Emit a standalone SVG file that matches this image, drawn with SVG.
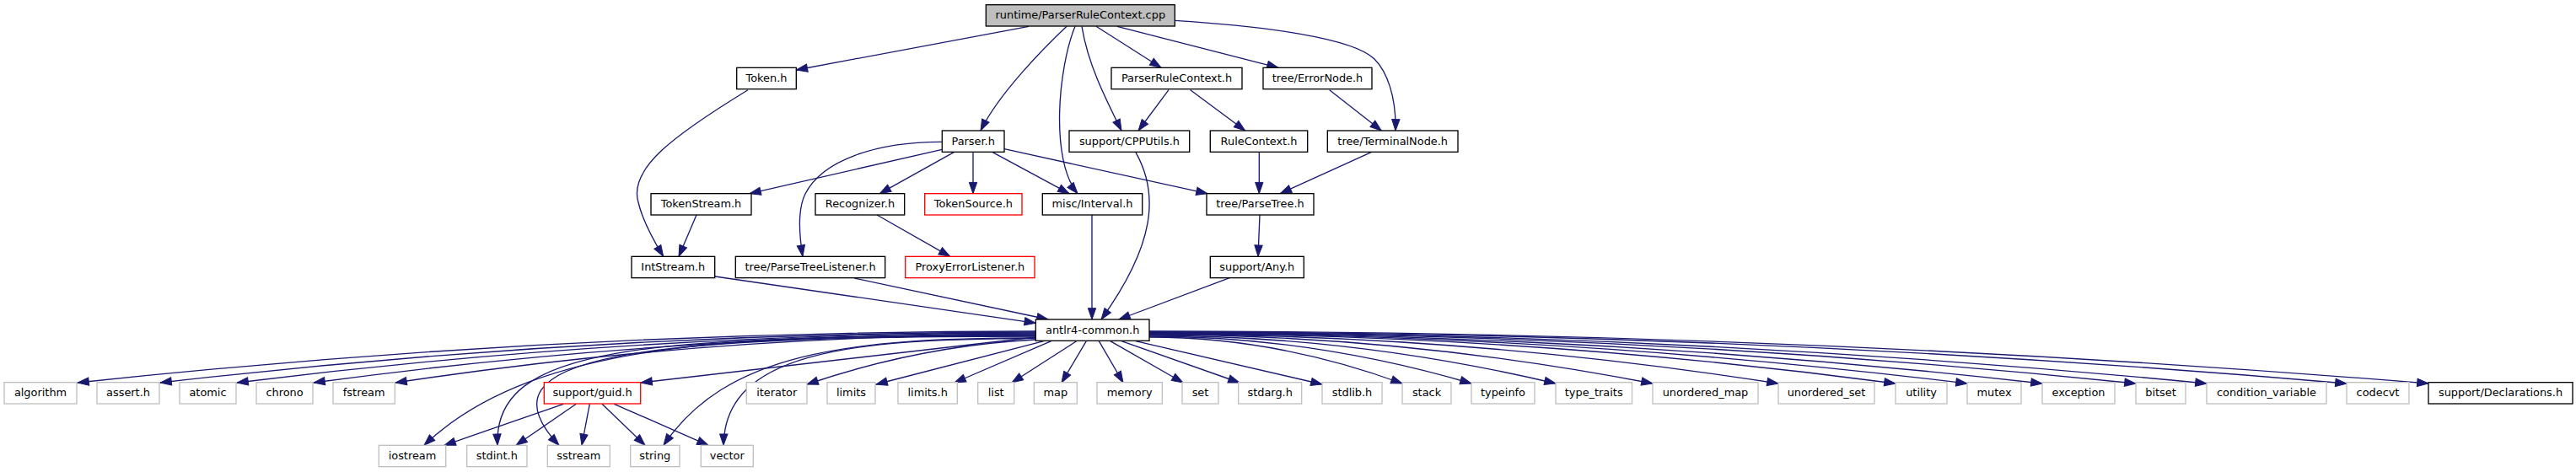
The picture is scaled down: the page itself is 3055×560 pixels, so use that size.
<svg xmlns="http://www.w3.org/2000/svg" width="3055" height="560" viewBox="0 0 3055 560">
<style>
.node rect{stroke-width:1.33}
.doc{fill:#fff;stroke:#000}
.ext{fill:#fff;stroke:#bfbfbf}
.red{fill:#fff;stroke:#ff0000}
.root{fill:#bfbfbf;stroke:#000}
.node text{font-family:"DejaVu Sans","Liberation Sans",sans-serif;font-size:12.9px;text-anchor:middle;fill:#000}
#edges path{fill:none;stroke:#191970;stroke-width:1.33;marker-end:url(#arr)}
</style>
<defs>
<marker id="arr" markerUnits="userSpaceOnUse" markerWidth="16" markerHeight="12" refX="13.3" refY="4.67" orient="auto" overflow="visible">
<path d="M0,0 L13.3,4.67 L0,9.33 Z" fill="#191970" stroke="#191970" stroke-width="1"/>
</marker>
</defs>
<rect x="0" y="0" width="3055" height="560" fill="#fff"/>
<g id="edges">
<path d="M1220,31.3 L944.3,83"/>
<path d="M1265,31.3 C1240,55 1185,110 1163,155"/>
<path d="M1275,31.3 C1255,80 1245,190 1278,229.7"/>
<path d="M1283,31.3 C1290,75 1310,115 1330,155"/>
<path d="M1300,31.3 L1377,80.3"/>
<path d="M1325,31.3 L1516,80.3"/>
<path d="M1393.3,24.3 C1500,31 1605,45 1630,70 C1645,85 1656,115 1655,155"/>
<path d="M887,106.7 C800,160 745,200 757,240 C762,262 775,285 786.7,304.3"/>
<path d="M1386,106.7 L1350,155"/>
<path d="M1411.7,106.7 L1476.7,155"/>
<path d="M1576.7,106.7 L1638.3,155"/>
<path d="M1346.7,180.3 C1375,230 1370,290 1306,379"/>
<path d="M1493.3,180.3 L1493.3,229.7"/>
<path d="M1626.7,180.3 L1518.3,229.7"/>
<path d="M1494,255 L1492,304.3"/>
<path d="M1458.3,329.7 L1327,379"/>
<path d="M1295,255 L1295,379"/>
<path d="M1117.3,177.3 L889,229.7"/>
<path d="M1131.7,180.3 L1043.3,229.7"/>
<path d="M1154,180.3 L1154,229.7"/>
<path d="M1176.7,180.3 L1268,229.7"/>
<path d="M1191,176.7 L1432,229.7"/>
<path d="M1117.3,168.3 C1040,168 975,190 955,230 C945,250 948,280 952,304.3"/>
<path d="M1040,255 L1126.7,304.3"/>
<path d="M826,255 L805,304.3"/>
<path d="M848,328 L1228.3,383.3"/>
<path d="M1013.3,330 L1243,379"/>
<path d="M1228.3,393 Q660,393 92,454"/>
<path d="M1228.3,394 Q709,394 190,454"/>
<path d="M1228.3,395 Q754,395 281,454"/>
<path d="M1228.3,396 Q800,396 372,454"/>
<path d="M1228.3,397 Q848,397 469,454"/>
<path d="M1228.3,398 C900,398 640,398 503,528.3"/>
<path d="M1228.3,398.5 C760,398.5 585,410 590,528.3"/>
<path d="M1228.3,399 C760,399 560,420 663,528.3"/>
<path d="M1228.3,400 L760,454"/>
<path d="M1228.3,401 C1000,401 860,420 787,528.3"/>
<path d="M1228.3,401.5 C1000,401.5 860,420 858,528.3"/>
<path d="M1228.3,403 Q1092,410 957,456"/>
<path d="M1238,404.7 L1039,456"/>
<path d="M1246.7,404.7 L1132,454"/>
<path d="M1276.7,404.7 L1200,454"/>
<path d="M1288.3,404.7 L1259,454"/>
<path d="M1303.3,404.7 L1332,454"/>
<path d="M1316.7,404.7 L1403,454"/>
<path d="M1330,404.7 L1470,454"/>
<path d="M1346.7,404.7 L1568,456"/>
<path d="M1363,400 Q1513,400 1663,455"/>
<path d="M1363,399 Q1554,399 1745,455"/>
<path d="M1363,398 Q1604,398 1845,455"/>
<path d="M1363,397 Q1661,397 1960,455"/>
<path d="M1363,396.5 Q1736,396.5 2109,455"/>
<path d="M1363,396 Q1805,396 2248,455"/>
<path d="M1363,395.5 Q1848,395.5 2333,455"/>
<path d="M1363,395 Q1892,395 2422,455"/>
<path d="M1363,394.5 Q1948,394.5 2533,455"/>
<path d="M1363,394 Q1990,394 2617,455"/>
<path d="M1363,393.5 Q2073,393.5 2783,455"/>
<path d="M1363,393 Q2121,393 2880,455"/>
<path d="M668.3,479.3 L527,528.3"/>
<path d="M683.3,479.3 L612,528.3"/>
<path d="M699.3,479.3 L690,528.3"/>
<path d="M714,479.3 L765,528.3"/>
<path d="M728.3,479.3 L840,528.3"/>
</g>
<g id="n_cpp" class="node"><rect class="root" x="1169.3" y="5.67" width="224" height="25.33"/><text x="1281.3" y="22.2">runtime/ParserRuleContext.cpp</text></g>
<g id="n_token" class="node"><rect class="doc" x="873.7" y="80.33" width="70.6" height="25.33"/><text x="909" y="96.8">Token.h</text></g>
<g id="n_prc" class="node"><rect class="doc" x="1318" y="80.33" width="155" height="25.33"/><text x="1395.5" y="96.8">ParserRuleContext.h</text></g>
<g id="n_errornode" class="node"><rect class="doc" x="1498" y="80.33" width="129" height="25.33"/><text x="1562.5" y="96.8">tree/ErrorNode.h</text></g>
<g id="n_parser" class="node"><rect class="doc" x="1117.3" y="155" width="73.7" height="25.33"/><text x="1154.2" y="171.5">Parser.h</text></g>
<g id="n_cpputils" class="node"><rect class="doc" x="1268" y="155" width="142.7" height="25.33"/><text x="1339.4" y="171.5">support/CPPUtils.h</text></g>
<g id="n_rulecontext" class="node"><rect class="doc" x="1435.3" y="155" width="115.4" height="25.33"/><text x="1493" y="171.5">RuleContext.h</text></g>
<g id="n_terminal" class="node"><rect class="doc" x="1574.3" y="155" width="154.7" height="25.33"/><text x="1651.7" y="171.5">tree/TerminalNode.h</text></g>
<g id="n_tokenstream" class="node"><rect class="doc" x="772" y="229.67" width="119" height="25.33"/><text x="831.5" y="246.2">TokenStream.h</text></g>
<g id="n_recognizer" class="node"><rect class="doc" x="967" y="229.67" width="105.7" height="25.33"/><text x="1019.9" y="246.2">Recognizer.h</text></g>
<g id="n_tokensource" class="node"><rect class="red" x="1096.7" y="229.67" width="115.3" height="25.33"/><text x="1154.4" y="246.2">TokenSource.h</text></g>
<g id="n_interval" class="node"><rect class="doc" x="1236.3" y="229.67" width="118.4" height="25.33"/><text x="1295.5" y="246.2">misc/Interval.h</text></g>
<g id="n_parsetree" class="node"><rect class="doc" x="1431" y="229.67" width="127" height="25.33"/><text x="1494.5" y="246.2">tree/ParseTree.h</text></g>
<g id="n_intstream" class="node"><rect class="doc" x="749" y="304.33" width="98.7" height="25.33"/><text x="798.3" y="320.8">IntStream.h</text></g>
<g id="n_ptlistener" class="node"><rect class="doc" x="872.3" y="304.33" width="177.4" height="25.33"/><text x="961" y="320.8">tree/ParseTreeListener.h</text></g>
<g id="n_proxy" class="node"><rect class="red" x="1073.7" y="304.33" width="153.3" height="25.33"/><text x="1150.4" y="320.8">ProxyErrorListener.h</text></g>
<g id="n_any" class="node"><rect class="doc" x="1435.3" y="304.33" width="111" height="25.33"/><text x="1490.8" y="320.8">support/Any.h</text></g>
<g id="n_common" class="node"><rect class="doc" x="1228.3" y="379" width="134.7" height="25.33"/><text x="1295.7" y="395.5">antlr4-common.h</text></g>
<g id="n_algorithm" class="node"><rect class="ext" x="5" y="453.67" width="86" height="25.33"/><text x="48" y="470.2">algorithm</text></g>
<g id="n_assert" class="node"><rect class="ext" x="115" y="453.67" width="74" height="25.33"/><text x="152" y="470.2">assert.h</text></g>
<g id="n_atomic" class="node"><rect class="ext" x="213" y="453.67" width="67" height="25.33"/><text x="246.5" y="470.2">atomic</text></g>
<g id="n_chrono" class="node"><rect class="ext" x="304" y="453.67" width="67" height="25.33"/><text x="337.5" y="470.2">chrono</text></g>
<g id="n_fstream" class="node"><rect class="ext" x="395" y="453.67" width="73.3" height="25.33"/><text x="431.7" y="470.2">fstream</text></g>
<g id="n_guid" class="node"><rect class="red" x="645.3" y="453.67" width="114.4" height="25.33"/><text x="702.5" y="470.2">support/guid.h</text></g>
<g id="n_iterator" class="node"><rect class="ext" x="885.3" y="453.67" width="71.7" height="25.33"/><text x="921.2" y="470.2">iterator</text></g>
<g id="n_limits" class="node"><rect class="ext" x="981" y="453.67" width="57" height="25.33"/><text x="1009.5" y="470.2">limits</text></g>
<g id="n_limitsh" class="node"><rect class="ext" x="1065" y="453.67" width="70.3" height="25.33"/><text x="1100.2" y="470.2">limits.h</text></g>
<g id="n_list" class="node"><rect class="ext" x="1159.7" y="453.67" width="43" height="25.33"/><text x="1181.2" y="470.2">list</text></g>
<g id="n_map" class="node"><rect class="ext" x="1226.3" y="453.67" width="51" height="25.33"/><text x="1251.8" y="470.2">map</text></g>
<g id="n_memory" class="node"><rect class="ext" x="1301" y="453.67" width="77.3" height="25.33"/><text x="1339.7" y="470.2">memory</text></g>
<g id="n_set" class="node"><rect class="ext" x="1402" y="453.67" width="43" height="25.33"/><text x="1423.5" y="470.2">set</text></g>
<g id="n_stdarg" class="node"><rect class="ext" x="1468.7" y="453.67" width="75" height="25.33"/><text x="1506.2" y="470.2">stdarg.h</text></g>
<g id="n_stdlib" class="node"><rect class="ext" x="1568" y="453.67" width="71" height="25.33"/><text x="1603.5" y="470.2">stdlib.h</text></g>
<g id="n_stack" class="node"><rect class="ext" x="1663" y="453.67" width="58" height="25.33"/><text x="1692" y="470.2">stack</text></g>
<g id="n_typeinfo" class="node"><rect class="ext" x="1745" y="453.67" width="75" height="25.33"/><text x="1782.5" y="470.2">typeinfo</text></g>
<g id="n_typetraits" class="node"><rect class="ext" x="1845" y="453.67" width="90.5" height="25.33"/><text x="1890.2" y="470.2">type_traits</text></g>
<g id="n_umap" class="node"><rect class="ext" x="1960" y="453.67" width="125" height="25.33"/><text x="2022.5" y="470.2">unordered_map</text></g>
<g id="n_uset" class="node"><rect class="ext" x="2109" y="453.67" width="114" height="25.33"/><text x="2166" y="470.2">unordered_set</text></g>
<g id="n_utility" class="node"><rect class="ext" x="2248" y="453.67" width="61" height="25.33"/><text x="2278.5" y="470.2">utility</text></g>
<g id="n_mutex" class="node"><rect class="ext" x="2333" y="453.67" width="64" height="25.33"/><text x="2365" y="470.2">mutex</text></g>
<g id="n_exception" class="node"><rect class="ext" x="2422" y="453.67" width="86" height="25.33"/><text x="2465" y="470.2">exception</text></g>
<g id="n_bitset" class="node"><rect class="ext" x="2533" y="453.67" width="59" height="25.33"/><text x="2562.5" y="470.2">bitset</text></g>
<g id="n_condvar" class="node"><rect class="ext" x="2617" y="453.67" width="142" height="25.33"/><text x="2688" y="470.2">condition_variable</text></g>
<g id="n_codecvt" class="node"><rect class="ext" x="2783" y="453.67" width="74" height="25.33"/><text x="2820" y="470.2">codecvt</text></g>
<g id="n_decl" class="node"><rect class="doc" x="2880" y="453.67" width="171" height="25.33"/><text x="2965.5" y="470.2">support/Declarations.h</text></g>
<g id="n_iostream" class="node"><rect class="ext" x="449.3" y="528.33" width="79.4" height="25.33"/><text x="489" y="544.8">iostream</text></g>
<g id="n_stdint" class="node"><rect class="ext" x="553.7" y="528.33" width="71.3" height="25.33"/><text x="589.3" y="544.8">stdint.h</text></g>
<g id="n_sstream" class="node"><rect class="ext" x="649.3" y="528.33" width="74" height="25.33"/><text x="686.3" y="544.8">sstream</text></g>
<g id="n_string" class="node"><rect class="ext" x="747.7" y="528.33" width="58.3" height="25.33"/><text x="776.8" y="544.8">string</text></g>
<g id="n_vector" class="node"><rect class="ext" x="831.3" y="528.33" width="62" height="25.33"/><text x="862.3" y="544.8">vector</text></g>
</svg>
